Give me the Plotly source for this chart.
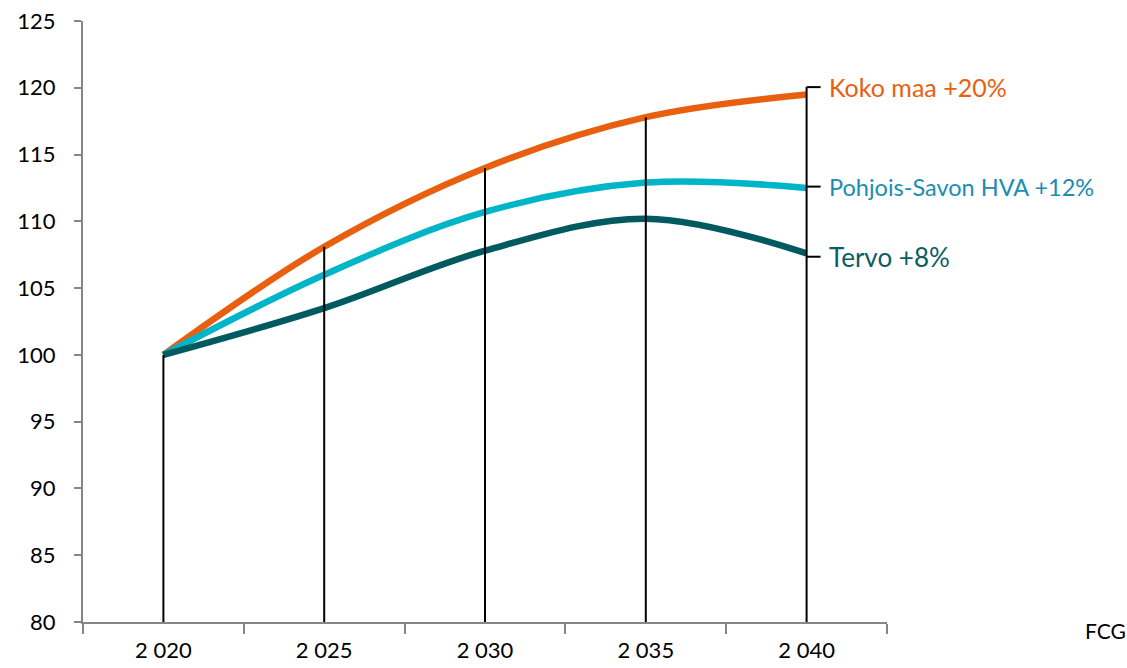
import plotly.graph_objects as go

categories = ["2 020", "2 025", "2 030", "2 035", "2 040"]
koko_maa = [100, 108.1, 114.0, 117.8, 119.5]
pohjois_savon = [100, 106.0, 110.7, 112.9, 112.5]
tervo = [100, 103.5, 107.8, 110.2, 107.6]
series_names = ["Koko maa +20%", "Pohjois-Savon HVA +12%", "Tervo +8%"]
y_ticks = [80, 85, 90, 95, 100, 105, 110, 115, 120, 125]

FONT = "Lato, 'Open Sans', sans-serif"
line_colors = ["#E8600F", "#00B5C8", "#005A60"]
label_colors = ["#E8600F", "#1B8DB3", "#0B5D62"]
label_sizes = [25, 23.5, 26]
label_y = [120.05, 112.6, 107.35]

W, H = 1127, 668
L, R, T, B = 83, 240, 21, 46

fig = go.Figure()

for vals, col, name in zip([koko_maa, pohjois_savon, tervo], line_colors, series_names):
    fig.add_trace(go.Scatter(x=categories, y=vals, mode="lines", name=name,
                             line=dict(color=col, width=6.5, shape="spline", smoothing=1),
                             showlegend=False))

# drop lines from highest point to axis (drawn over the series)
dx, dy = [], []
for i, c in enumerate(categories):
    top = max(koko_maa[i], pohjois_savon[i], tervo[i])
    if i == len(categories) - 1:
        top = label_y[0]
    dx += [c, c, None]
    dy += [top, 80, None]
fig.add_trace(go.Scatter(x=dx, y=dy, mode="lines", line=dict(color="black", width=2),
                         hoverinfo="skip", showlegend=False))

shapes = []
annotations = []
for name, col, sz, ly in zip(series_names, label_colors, label_sizes, label_y):
    shapes.append(dict(type="line", xref="x", yref="y", xsizemode="pixel", xanchor=4,
                       x0=0, x1=14, y0=ly, y1=ly, line=dict(color="black", width=2)))
    annotations.append(dict(x=4, y=ly, xref="x", yref="y", text=name, showarrow=False,
                            xanchor="left", yanchor="middle", xshift=20,
                            font=dict(family=FONT, size=sz, color=col)))
pw = W - L - R
annotations.append(dict(xref="paper", yref="paper", x=1.0, y=0.0,
                        xshift=1105 - (L + pw), yshift=-8,
                        xanchor="center", yanchor="middle",
                        text="FCG", showarrow=False,
                        font=dict(family=FONT, size=21, color="black")))

fig.update_layout(
    width=W, height=H,
    margin=dict(l=L, r=R, t=T, b=B, autoexpand=False),
    paper_bgcolor="white", plot_bgcolor="white",
    font=dict(family=FONT, size=22, color="black"),
    shapes=shapes, annotations=annotations,
    xaxis=dict(type="category", categoryorder="array", categoryarray=categories,
               range=[-0.5, 4.5], showline=True, linecolor="#868686", linewidth=2,
               ticks="outside", tickson="boundaries", ticklen=10, tickcolor="#868686",
               tickwidth=2, showgrid=False, zeroline=False, ticklabelstandoff=8,
               automargin=False, ticklabeloverflow="allow",
               tickfont=dict(family=FONT, size=22)),
    yaxis=dict(range=[80, 125], tickvals=y_ticks, showline=True, linecolor="#868686",
               linewidth=2, ticks="outside", ticklen=7, tickcolor="#868686", tickwidth=2,
               showgrid=False, zeroline=False, ticklabelstandoff=14, automargin=False,
               ticklabeloverflow="allow", tickfont=dict(family=FONT, size=22)),
)

fig.write_html("out.html", config={"displayModeBar": False},
               post_script="document.body.style.margin='0';document.body.style.overflow='hidden';")
